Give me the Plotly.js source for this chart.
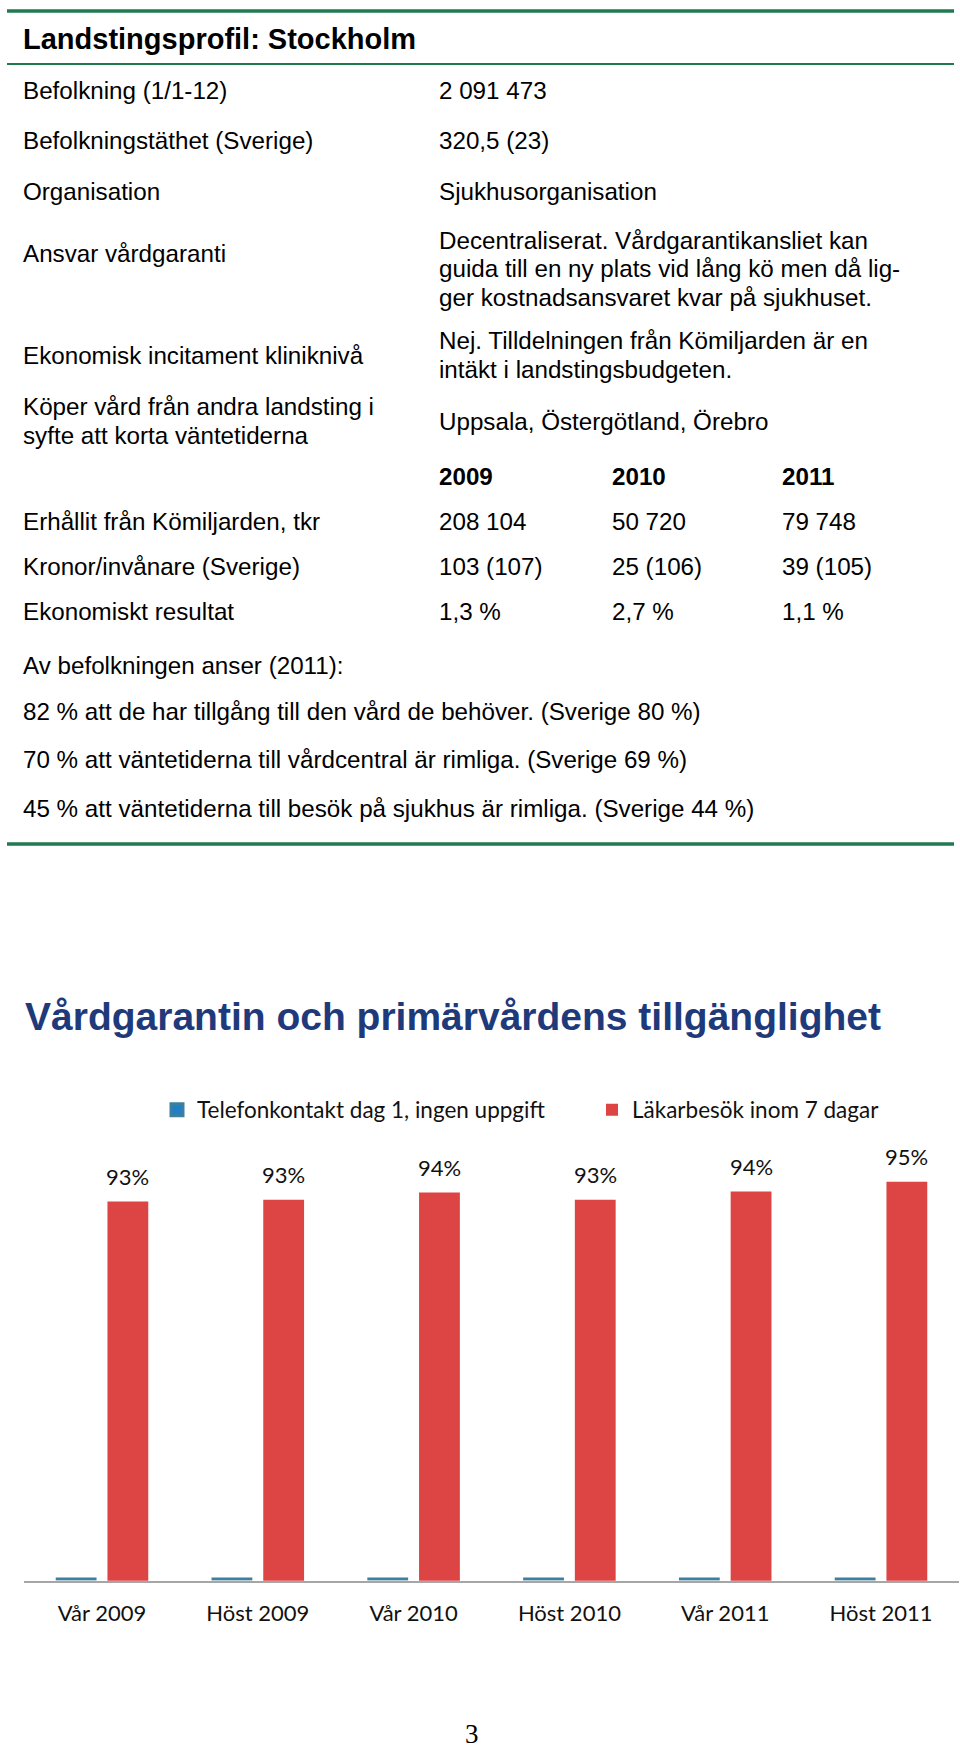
<!DOCTYPE html>
<html>
<head>
<meta charset="utf-8">
<script src="https://cdn.plot.ly/plotly-3.0.1.min.js"></script>
<style>
  html, body { margin: 0; padding: 0; background: #ffffff; }
  #page { width: 960px; height: 1751px; }
</style>
</head>
<body>
<div id="page"></div>
<script>
// ================= DATA =================
const pageTitle = 'Landstingsprofil: Stockholm';

const profileLabels = [
  'Befolkning (1/1-12)',
  'Befolkningstäthet (Sverige)',
  'Organisation',
  'Ansvar vårdgaranti',
  'Ekonomisk incitament kliniknivå',
  'Köper vård från andra landsting i\nsyfte att korta väntetiderna'
];
const profileValues = [
  '2 091 473',
  '320,5 (23)',
  'Sjukhusorganisation',
  'Decentraliserat. Vårdgarantikansliet kan\nguida till en ny plats vid lång kö men då lig-\nger kostnadsansvaret kvar på sjukhuset.',
  'Nej. Tilldelningen från Kömiljarden är en\nintäkt i landstingsbudgeten.',
  'Uppsala, Östergötland, Örebro'
];

const years = ['2009', '2010', '2011'];
const financeLabels = ['Erhållit från Kömiljarden, tkr', 'Kronor/invånare (Sverige)', 'Ekonomiskt resultat'];
const finance2009 = ['208 104', '103 (107)', '1,3 %'];
const finance2010 = ['50 720', '25 (106)', '2,7 %'];
const finance2011 = ['79 748', '39 (105)', '1,1 %'];

const opinionHeader = 'Av befolkningen anser (2011):';
const opinionLines = [
  '82 % att de har tillgång till den vård de behöver. (Sverige 80 %)',
  '70 % att väntetiderna till vårdcentral är rimliga. (Sverige 69 %)',
  '45 % att väntetiderna till besök på sjukhus är rimliga. (Sverige 44 %)'
];

const chartTitle = 'Vårdgarantin och primärvårdens tillgänglighet';
const periods = ['Vår 2009', 'Höst 2009', 'Vår 2010', 'Höst 2010', 'Vår 2011', 'Höst 2011'];
const seriesNames = ['Telefonkontakt dag 1, ingen uppgift', 'Läkarbesök inom 7 dagar'];
const telefonValues = [0, 0, 0, 0, 0, 0];
const lakarbesokValues = [92.8, 93.0, 93.8, 93.0, 93.9, 95.0];

const pageNumber = '3';

// ================= LAYOUT HELPERS =================
const W = 960, H = 1751;
const px = x => x / W;
const py = y => 1 - y / H;

const GREEN = '#1f7a50';
const TEXT_FONT = 'Liberation Sans, Arial, sans-serif';
const CHART_FONT = 'Lato, Carlito, Calibri, sans-serif';

function note(x, y, text, opt) {
  opt = opt || {};
  return {
    xref: 'paper', yref: 'paper', x: px(x), y: py(y),
    xanchor: opt.xanchor || 'left', yanchor: opt.yanchor || 'middle',
    text: text, showarrow: false,
    font: {
      family: opt.family || TEXT_FONT,
      size: opt.size || 24.2,
      color: opt.color || '#000000',
      weight: opt.weight || 'normal'
    }
  };
}

const annotations = [];
const shapes = [];

// green rules
[[11, 3.5], [64, 2], [844, 3.5]].forEach(([y, w]) => {
  shapes.push({
    type: 'line', xref: 'paper', yref: 'paper',
    x0: px(7), x1: px(954), y0: py(y), y1: py(y),
    line: { color: GREEN, width: w }
  });
});

// page title
annotations.push(note(21, 39, pageTitle, { size: 29, weight: 'bold' }));

// profile rows
const LEFT_X = 20.5, RIGHT_X = 436.5, LINE_STEP = 28.6;
const leftCenters = [90.5, 141, 191.2, 253.5, 355, 421];
const rightCenters = [90.5, 141, 191.2, 268.9, 355.2, 421.7];
function addLines(x, center, str) {
  const lines = str.split('\n');
  lines.forEach((ln, i) => {
    annotations.push(note(x, center + (i - (lines.length - 1) / 2) * LINE_STEP, ln));
  });
}
profileLabels.forEach((lab, i) => addLines(LEFT_X, leftCenters[i], lab));
profileValues.forEach((val, i) => addLines(RIGHT_X, rightCenters[i], val));

// finance table
const yearX = [436.5, 609.5, 779.5];
years.forEach((yr, i) => annotations.push(note(yearX[i], 476.2, yr, { weight: 'bold' })));
const finRowY = [521.5, 566, 611];
const finCols = [finance2009, finance2010, finance2011];
financeLabels.forEach((lab, r) => {
  annotations.push(note(LEFT_X, finRowY[r], lab));
  finCols.forEach((col, c) => annotations.push(note(yearX[c], finRowY[r], col[r])));
});

// opinions
annotations.push(note(LEFT_X, 665, opinionHeader));
const opinionY = [711.5, 759.5, 809];
opinionLines.forEach((ln, i) => annotations.push(note(LEFT_X, opinionY[i], ln)));

// chart title
annotations.push(note(23, 1016, chartTitle, { size: 39, weight: 'bold', color: '#1f3a7b' }));

// page number
annotations.push(note(472, 1751, pageNumber, {
  family: 'Liberation Serif, Times New Roman, serif', size: 27, xanchor: 'center', yanchor: 'bottom'
}));

// ================= BAR CHART GEOMETRY =================
const plotLeftPx = 24.1, plotRightPx = 958.9;
const plotBottomPx = 1580.7;
const yMin = 51, yMax = 99.5, pxPerUnit = 9.07;
const plotTopPx = plotBottomPx - (yMax - yMin) * pxPerUnit;
const catPx = (plotRightPx - plotLeftPx) / periods.length;
const BAR_W = 0.262, BLUE_OFF = -0.297, RED_OFF = 0.035;

// data labels above red bars
lakarbesokValues.forEach((v, i) => {
  annotations.push({
    xref: 'x', yref: 'y', x: periods[i], y: v,
    xshift: (RED_OFF + BAR_W / 2) * catPx, yshift: 25,
    xanchor: 'center', yanchor: 'middle', showarrow: false,
    text: Math.round(v) + '%',
    font: { family: CHART_FONT, size: 22, color: '#111111' }
  });
});

const traces = [
  {
    type: 'bar', name: seriesNames[0], x: periods, y: telefonValues,
    yaxis: 'y2', width: BAR_W, offset: BLUE_OFF, legend: 'legend',
    marker: { color: '#1f80c8', line: { color: '#3d7f9e', width: 3 } },
    hoverinfo: 'skip'
  },
  {
    type: 'bar', name: seriesNames[1], x: periods, y: lakarbesokValues,
    yaxis: 'y', width: BAR_W, offset: RED_OFF, legend: 'legend2',
    marker: { color: '#dc4544', line: { width: 0 } },
    hoverinfo: 'skip'
  }
];

const legendStyle = {
  orientation: 'h', yanchor: 'middle', xanchor: 'left', y: py(1110),
  font: { family: CHART_FONT, size: 22.5, color: '#111111' },
  bgcolor: 'rgba(0,0,0,0)', borderwidth: 0
};

const layout = {
  width: W, height: H,
  margin: { l: 0, r: 0, t: 0, b: 0, pad: 0 },
  paper_bgcolor: '#ffffff', plot_bgcolor: 'rgba(0,0,0,0)',
  showlegend: true,
  barmode: 'group',
  xaxis: {
    type: 'category', domain: [px(plotLeftPx), px(plotRightPx)],
    range: [-0.5, periods.length - 0.5],
    showline: true, linecolor: '#a6a6a6', linewidth: 2,
    showgrid: false, zeroline: false, ticks: '',
    ticklabelstandoff: 12,
    tickfont: { family: CHART_FONT, size: 22, color: '#111111' },
    layer: 'below traces', fixedrange: true
  },
  yaxis: {
    domain: [py(plotBottomPx), py(plotTopPx)],
    range: [yMin, yMax], visible: false, showgrid: false, zeroline: false, fixedrange: true
  },
  yaxis2: {
    overlaying: 'y', range: [-0.004, 1], visible: false, showgrid: false, zeroline: false, fixedrange: true
  },
  legend: Object.assign({}, legendStyle, { x: px(157) }),
  legend2: Object.assign({}, legendStyle, { x: px(592) }),
  annotations: annotations,
  shapes: shapes
};

Plotly.newPlot('page', traces, layout, { displayModeBar: false, staticPlot: true });
</script>
</body>
</html>
